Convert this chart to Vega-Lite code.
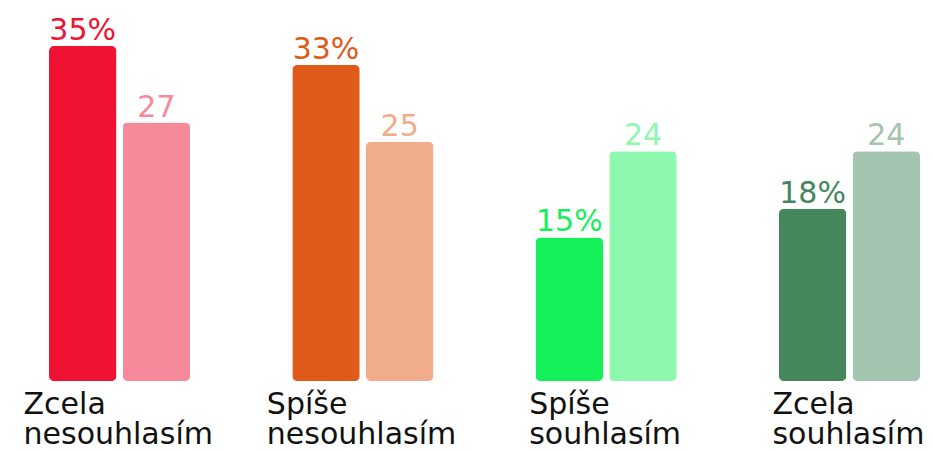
{
  "$schema": "https://vega.github.io/schema/vega-lite/v6.json",
  "width": 871,
  "height": 381,
  "autosize": {"type": "none"},
  "padding": {"left": 49, "right": 13, "top": 0, "bottom": 70},
  "background": "white",
  "config": {"view": {"stroke": null}, "font": "DejaVu Sans"},
  "data": {
    "values": [
      {"group": "Zcela nesouhlasím", "series": "pct", "value": 35, "label": "35%"},
      {"group": "Zcela nesouhlasím", "series": "n", "value": 27, "label": "27"},
      {"group": "Spíše nesouhlasím", "series": "pct", "value": 33, "label": "33%"},
      {"group": "Spíše nesouhlasím", "series": "n", "value": 25, "label": "25"},
      {"group": "Spíše souhlasím", "series": "pct", "value": 15, "label": "15%"},
      {"group": "Spíše souhlasím", "series": "n", "value": 24, "label": "24"},
      {"group": "Zcela souhlasím", "series": "pct", "value": 18, "label": "18%"},
      {"group": "Zcela souhlasím", "series": "n", "value": 24, "label": "24"}
    ]
  },
  "transform": [
    {"calculate": "datum.group + '|' + datum.series", "as": "key"},
    {"calculate": "split(datum.group, ' ')", "as": "lines"}
  ],
  "encoding": {
    "x": {
      "field": "group",
      "type": "nominal",
      "sort": ["Zcela nesouhlasím", "Spíše nesouhlasím", "Spíše souhlasím", "Zcela souhlasím"],
      "scale": {"paddingInner": 0.42, "paddingOuter": 0},
      "axis": null
    }
  },
  "layer": [
    {
      "mark": {"type": "bar", "cornerRadius": 5},
      "encoding": {
        "xOffset": {"field": "series", "type": "nominal", "sort": ["pct", "n"], "scale": {"paddingInner": 0.085, "paddingOuter": 0}},
        "y": {"field": "value", "type": "quantitative", "scale": {"domain": [0, 39.8], "nice": false}, "axis": null},
        "color": {
          "field": "key",
          "type": "nominal",
          "scale": {
            "domain": ["Zcela nesouhlasím|pct", "Zcela nesouhlasím|n", "Spíše nesouhlasím|pct", "Spíše nesouhlasím|n", "Spíše souhlasím|pct", "Spíše souhlasím|n", "Zcela souhlasím|pct", "Zcela souhlasím|n"],
            "range": ["#EF1233", "#F78A9A", "#E05A1A", "#F0AC8B", "#14F05A", "#8DF8AE", "#46865B", "#A3C4AE"]
          },
          "legend": null
        }
      }
    },
    {
      "mark": {"type": "text", "fontSize": 30, "baseline": "alphabetic", "align": "center", "dy": -6},
      "encoding": {
        "xOffset": {"field": "series", "type": "nominal", "sort": ["pct", "n"]},
        "y": {"field": "value", "type": "quantitative"},
        "text": {"field": "label"},
        "color": {"field": "key", "type": "nominal", "legend": null}
      }
    },
    {
      "transform": [{"filter": "datum.series == 'pct' && indexof(datum.group, 'nesouhlasím') >= 0"}],
      "mark": {"type": "text", "fontSize": 30, "lineHeight": 30, "baseline": "alphabetic", "align": "left", "dx": -96, "dy": 33, "color": "#111111"},
      "encoding": {
        "x": {"field": "group", "type": "nominal", "bandPosition": 0.5},
        "y": {"datum": 0, "type": "quantitative"},
        "text": {"field": "lines"}
      }
    },
    {
      "transform": [{"filter": "datum.series == 'pct' && indexof(datum.group, 'nesouhlasím') < 0"}],
      "mark": {"type": "text", "fontSize": 30, "lineHeight": 30, "baseline": "alphabetic", "align": "left", "dx": -77, "dy": 33, "color": "#111111"},
      "encoding": {
        "x": {"field": "group", "type": "nominal", "bandPosition": 0.5},
        "y": {"datum": 0, "type": "quantitative"},
        "text": {"field": "lines"}
      }
    }
  ]
}
